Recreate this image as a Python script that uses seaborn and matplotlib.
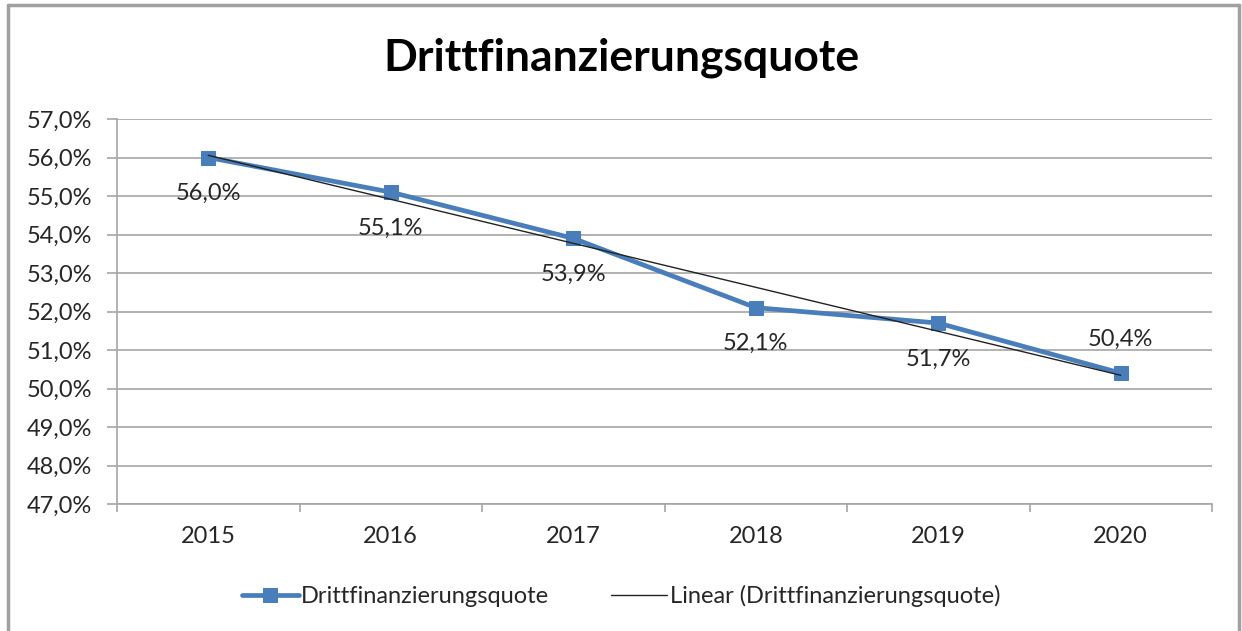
import numpy as np
import pandas as pd
import matplotlib
matplotlib.use("Agg")
import matplotlib.pyplot as plt
import seaborn as sns
from matplotlib.lines import Line2D
from matplotlib.ticker import FixedLocator

# ---- data ----
years = ["2015", "2016", "2017", "2018", "2019", "2020"]
quote = [56.0, 55.1, 53.9, 52.1, 51.7, 50.4]
y_ticks = [47, 48, 49, 50, 51, 52, 53, 54, 55, 56, 57]
series_name = "Drittfinanzierungsquote"
trend_name = "Linear (Drittfinanzierungsquote)"
title = "Drittfinanzierungsquote"

sns.set_theme(style="white")
plt.rcParams["font.family"] = ["Lato", "DejaVu Sans"]

W, H = 1242, 631
fig = plt.figure(figsize=(W / 100, H / 100), dpi=100)
ax = fig.add_axes([117 / W, 1 - 504 / H, (1212 - 117) / W, (504 - 119) / H])

x = np.arange(len(years))
df = pd.DataFrame({"x": x, "y": quote})

blue = "#4A7EBB"
grid_c = "#A6A6A6"
text_c = "#262626"
fs = 17

# trendline (least-squares fit of the series)
coef = np.polyfit(x, quote, 1)
trend = np.polyval(coef, x)
sns.lineplot(data=pd.DataFrame({"x": x, "y": trend}), x="x", y="y", ax=ax,
             color="#222222", linewidth=1.0, zorder=4, label=trend_name)

sns.lineplot(data=df, x="x", y="y", ax=ax, color=blue, linewidth=3.4,
             marker="s", markersize=10, markeredgecolor=blue, zorder=3,
             label=series_name)

# data labels
def fmt(v):
    return f"{v:.1f}%".replace(".", ",")

for i, v in enumerate(quote):
    dy = 24 if i == len(quote) - 1 else -26
    ax.annotate(fmt(v), (x[i], v), xytext=(0, dy), textcoords="offset points",
                ha="center", va="center", fontsize=fs, color=text_c)

ax.set_xlim(-0.5, len(years) - 0.5)
ax.set_ylim(y_ticks[0], y_ticks[-1])
ax.set_yticks(y_ticks)
ax.set_yticklabels([fmt(t) for t in y_ticks], fontsize=fs, color=text_c)
ax.set_xticks(x)
ax.set_xticklabels(years, fontsize=fs, color=text_c)
ax.xaxis.set_minor_locator(FixedLocator(np.arange(-0.5, len(years), 1.0)))
ax.tick_params(axis="x", which="major", length=0, pad=16)
ax.tick_params(axis="x", which="minor", length=6, width=1.2, color=grid_c, direction="out", bottom=True)
ax.tick_params(axis="y", which="major", length=7, width=1.2, color=grid_c, direction="out", left=True, pad=11)
ax.set_xlabel("")
ax.set_ylabel("")

ax.grid(axis="y", color=grid_c, linewidth=1.2)
ax.set_axisbelow(True)
for s in ["top", "right"]:
    ax.spines[s].set_visible(False)
for s in ["left", "bottom"]:
    ax.spines[s].set_color(grid_c)
    ax.spines[s].set_linewidth(1.2)

fig.text(0.5, 1 - 58 / H, title, ha="center", va="center", fontsize=32,
         fontweight="bold", color="black")

handles, labels = ax.get_legend_handles_labels()
order = [labels.index(series_name), labels.index(trend_name)]
ax.legend([handles[i] for i in order], [labels[i] for i in order],
          loc="center", bbox_to_anchor=(0.5, 1 - 596 / H), bbox_transform=fig.transFigure,
          ncol=2, frameon=False, fontsize=fs, handlelength=2.4, handletextpad=0.1,
          columnspacing=2.6, labelcolor=text_c)

# chart border
bc = "#A0A0A0"
fig.add_artist(Line2D([8 / W, 8 / W], [0, 1 - 5 / H], transform=fig.transFigure, color=bc, lw=2.5))
fig.add_artist(Line2D([1239 / W, 1239 / W], [0, 1 - 5 / H], transform=fig.transFigure, color=bc, lw=2.5))
fig.add_artist(Line2D([8 / W, 1239 / W], [1 - 5 / H, 1 - 5 / H], transform=fig.transFigure, color=bc, lw=2.5))

fig.savefig("out.png", dpi=100, facecolor="white")
